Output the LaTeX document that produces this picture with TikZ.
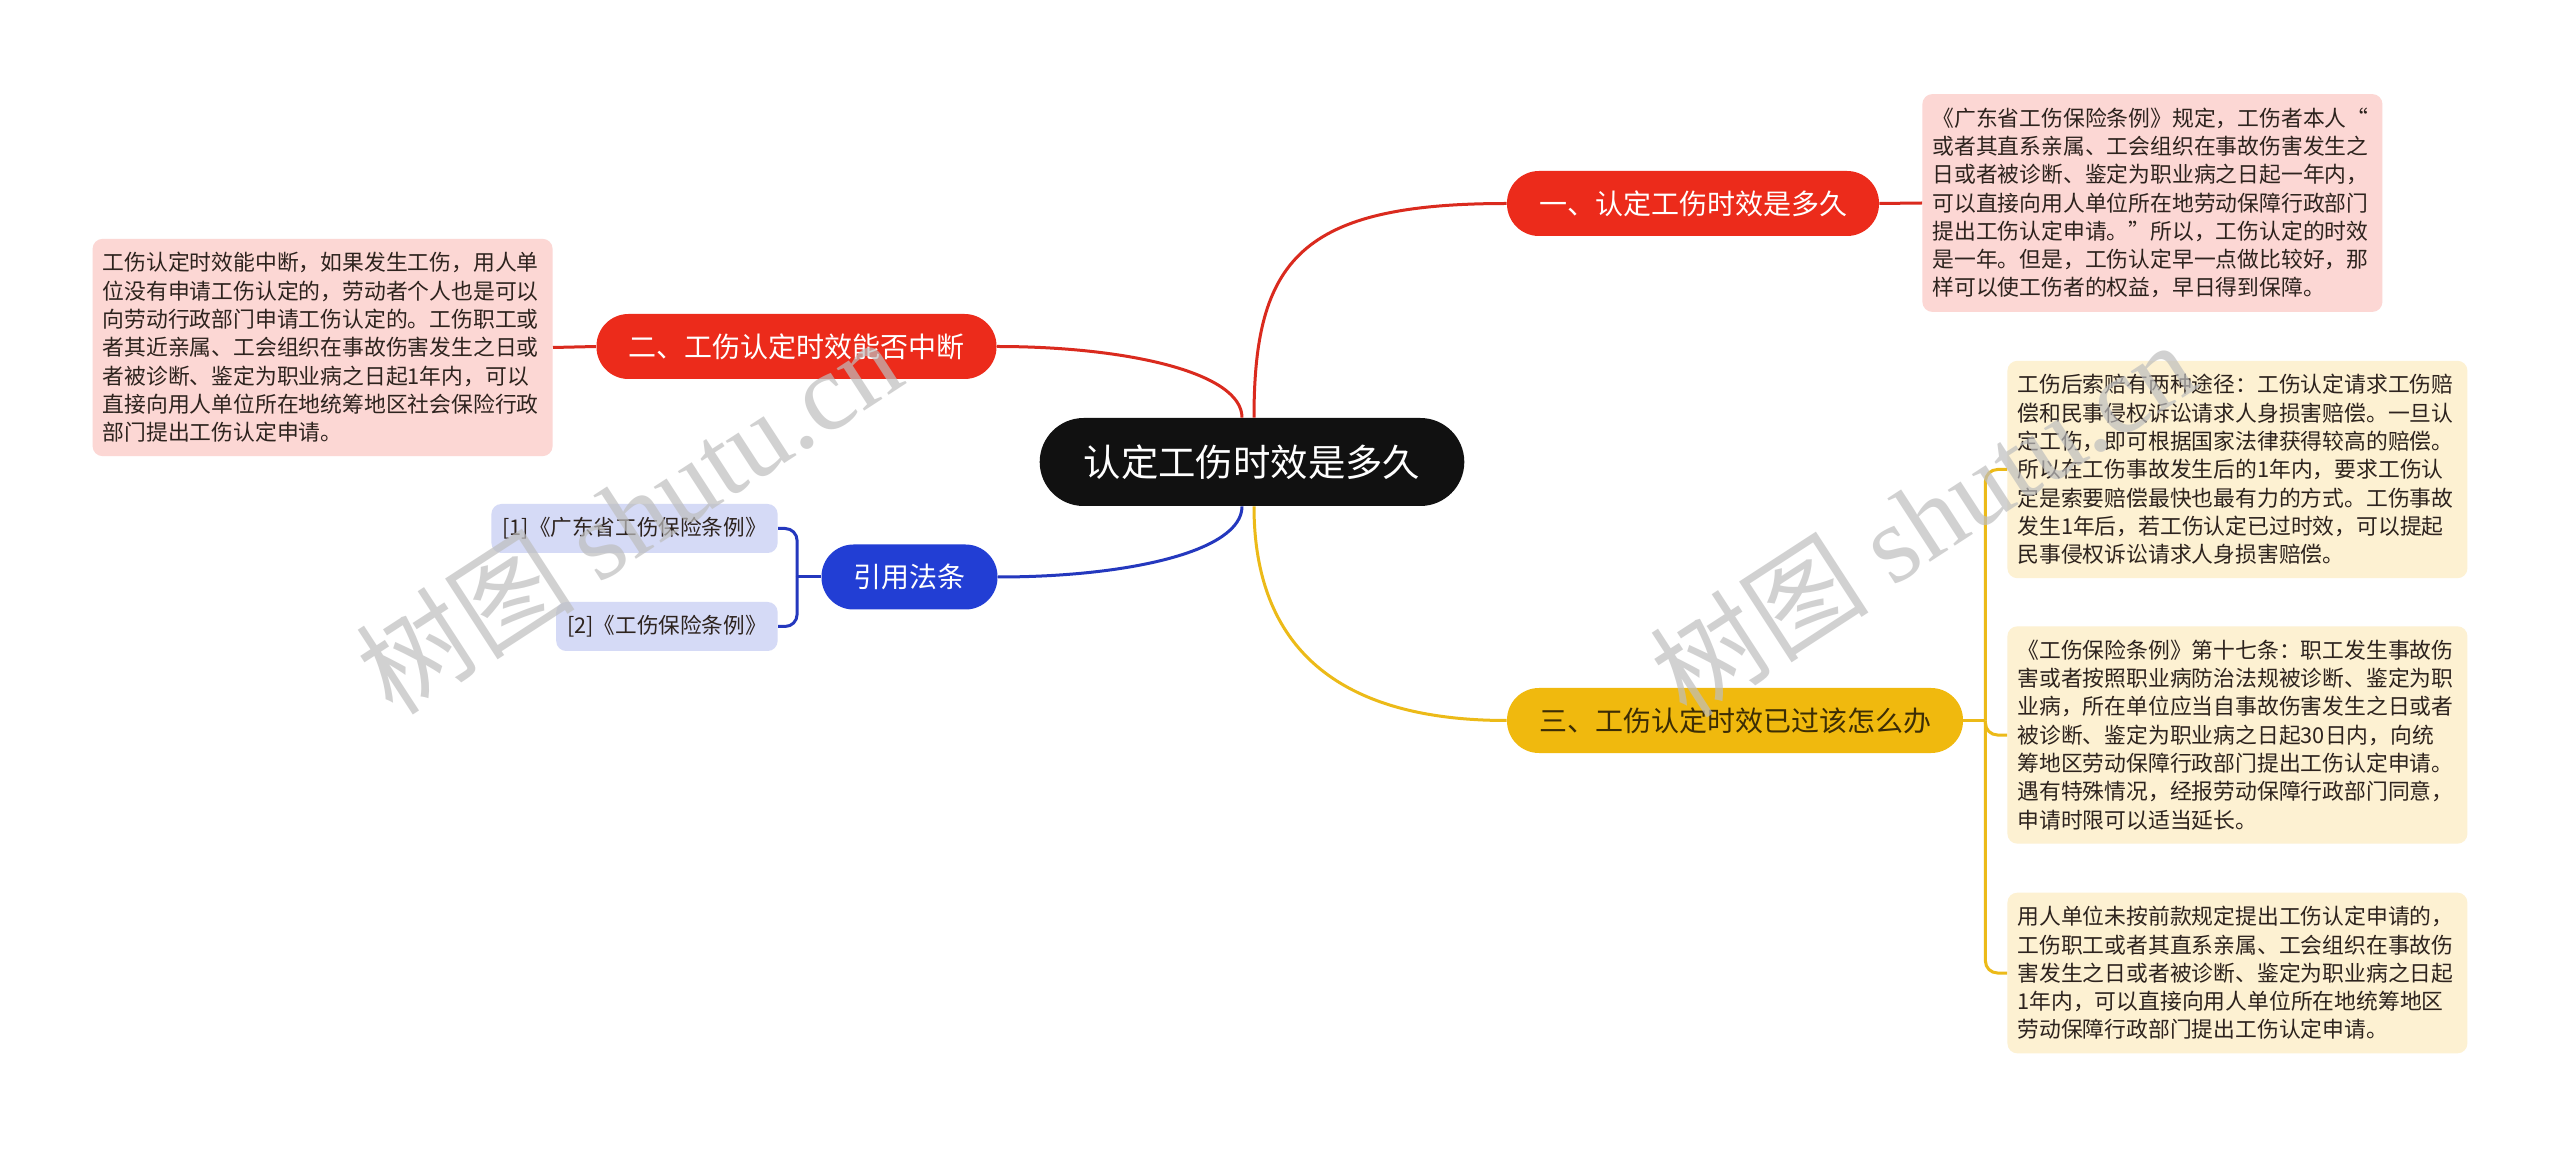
\documentclass[tikz,border=0pt]{standalone}
\usepackage{fontspec}
\setmainfont{Noto Sans CJK SC}
\newfontfamily\latinmark{Liberation Serif}
\definecolor{rootblack}{RGB}{17,17,17}
\definecolor{redbranch}{RGB}{236,43,27}
\definecolor{redlink}{RGB}{218,42,30}
\definecolor{pinkleaf}{RGB}{252,215,212}
\definecolor{yellowbranch}{RGB}{240,185,14}
\definecolor{yellowlink}{RGB}{236,186,24}
\definecolor{yellowleaf}{RGB}{253,241,210}
\definecolor{bluebranch}{RGB}{34,62,212}
\definecolor{bluelink}{RGB}{36,56,190}
\definecolor{blueleaf}{RGB}{213,218,246}
\definecolor{leaftext}{RGB}{45,35,30}
\definecolor{darktext}{RGB}{60,45,5}
\definecolor{marktext}{RGB}{190,190,190}
\begin{document}
\begin{tikzpicture}
[x=0.5pt,y=-0.5pt,
 rootdecorate/.style={shape=rectangle,rounded corners=22pt,fill=rootblack,text=white,
   minimum height=44pt,inner xsep=22pt,inner ysep=0pt,font=\fontsize{18.7pt}{22pt}\selectfont},
 branchdecorate/.style={shape=rectangle,rounded corners=16pt,minimum height=32.5pt,
   inner xsep=16pt,inner ysep=0pt,font=\fontsize{14pt}{17pt}\selectfont},
 leafdecorate/.style={shape=rectangle,rounded corners=5pt,text width=220pt,align=left,
   inner xsep=5pt,inner ysep=6.8pt,text=leaftext,font=\fontsize{10.9pt}{14.15pt}\selectfont},
 refdecorate/.style={shape=rectangle,rounded corners=5pt,fill=blueleaf,text=leaftext,
   minimum height=24.5pt,inner xsep=5.5pt,inner ysep=0pt,font=\fontsize{10.8pt}{13pt}\selectfont},
 linkdecorate/.style={line width=1.5pt},
 markdecorate/.style={text=marktext,opacity=0.7,rotate=33,font=\fontsize{55pt}{60pt}\selectfont}]
\useasboundingbox (0,0) rectangle (2560,1149);
\fill[white] (0,0) rectangle (2560,1149);
%% root and main branches
\node (root) at (1252,462) [rootdecorate] {认定工伤时效是多久};
\node (b1) at (1693,203.5) [branchdecorate,fill=redbranch,text=white] {一、认定工伤时效是多久};
\node (b2) at (796.5,346.5) [branchdecorate,fill=redbranch,text=white] {二、工伤认定时效能否中断};
\node (b3) at (909.5,577) [branchdecorate,fill=bluebranch,text=white] {引用法条};
\node (b4) at (1735,720.5) [branchdecorate,fill=yellowbranch,text=darktext] {三、工伤认定时效已过该怎么办};
%% leaves
\node (l1) at (1922,203) [leafdecorate,fill=pinkleaf,anchor=west] {《广东省工伤保险条例》规定，工伤者本人“\\
或者其直系亲属、工会组织在事故伤害发生之\\
日或者被诊断、鉴定为职业病之日起一年内，\\
可以直接向用人单位所在地劳动保障行政部门\\
提出工伤认定申请。”所以，工伤认定的时效\\
是一年。但是，工伤认定早一点做比较好，那\\
样可以使工伤者的权益，早日得到保障。};
\node (l2) at (553,347.5) [leafdecorate,fill=pinkleaf,anchor=east] {工伤认定时效能中断，如果发生工伤，用人单\\
位没有申请工伤认定的，劳动者个人也是可以\\
向劳动行政部门申请工伤认定的。工伤职工或\\
者其近亲属、工会组织在事故伤害发生之日或\\
者被诊断、鉴定为职业病之日起1年内，可以\\
直接向用人单位所在地统筹地区社会保险行政\\
部门提出工伤认定申请。};
\node (y1) at (2007,469.5) [leafdecorate,fill=yellowleaf,anchor=west] {工伤后索赔有两种途径：工伤认定请求工伤赔\\
偿和民事侵权诉讼请求人身损害赔偿。一旦认\\
定工伤，即可根据国家法律获得较高的赔偿。\\
所以在工伤事故发生后的1年内，要求工伤认\\
定是索要赔偿最快也最有力的方式。工伤事故\\
发生1年后，若工伤认定已过时效，可以提起\\
民事侵权诉讼请求人身损害赔偿。};
\node (y2) at (2007,735) [leafdecorate,fill=yellowleaf,anchor=west] {《工伤保险条例》第十七条：职工发生事故伤\\
害或者按照职业病防治法规被诊断、鉴定为职\\
业病，所在单位应当自事故伤害发生之日或者\\
被诊断、鉴定为职业病之日起30日内，向统\\
筹地区劳动保障行政部门提出工伤认定申请。\\
遇有特殊情况，经报劳动保障行政部门同意，\\
申请时限可以适当延长。};
\node (y3) at (2007,973) [leafdecorate,fill=yellowleaf,anchor=west] {用人单位未按前款规定提出工伤认定申请的，\\
工伤职工或者其直系亲属、工会组织在事故伤\\
害发生之日或者被诊断、鉴定为职业病之日起\\
1年内，可以直接向用人单位所在地统筹地区\\
劳动保障行政部门提出工伤认定申请。};
\node (r1) at (778,528.5) [refdecorate,anchor=east] {[1]《广东省工伤保险条例》};
\node (r2) at (778,626.5) [refdecorate,anchor=east] {[2]《工伤保险条例》};
%% links from the root
\draw[linkdecorate,redlink] ([xshift=1pt]root.north) .. controls +(0,-158) and +(-206,0) .. (b1.west);
\draw[linkdecorate,redlink] ([xshift=-5pt]root.north) .. controls +(0,-45) and +(130,0) .. (b2.east);
\draw[linkdecorate,bluelink] ([xshift=-5pt]root.south) .. controls +(0,45) and +(130,0) .. (b3.east);
\draw[linkdecorate,yellowlink] ([xshift=1pt]root.south) .. controls +(0,140) and +(-170,0) .. (b4.west);
%% links to the leaves
\draw[linkdecorate,redlink] (b1.east) -- (l1.west);
\draw[linkdecorate,redlink] (b2.west) -- (l2.east);
\coordinate (yjoin) at ([xshift=11pt]b4.east);
\draw[linkdecorate,yellowlink] (b4.east) -- (yjoin);
\foreach \leafname in {y1,y2,y3}
  \draw[linkdecorate,yellowlink,rounded corners=6pt] (yjoin) |- (\leafname.west);
\coordinate (bjoin) at ([xshift=-12pt]b3.west);
\draw[linkdecorate,bluelink] (b3.west) -- (bjoin);
\foreach \leafname in {r1,r2}
  \draw[linkdecorate,bluelink,rounded corners=6pt] (bjoin) |- (\leafname.east);
%% watermarks
\node (mark1) at (628,515) [markdecorate] {树图 {\latinmark shutu.cn}};
\node (mark2) at (1922,518) [markdecorate] {树图 {\latinmark shutu.cn}};
\end{tikzpicture}
\end{document}
